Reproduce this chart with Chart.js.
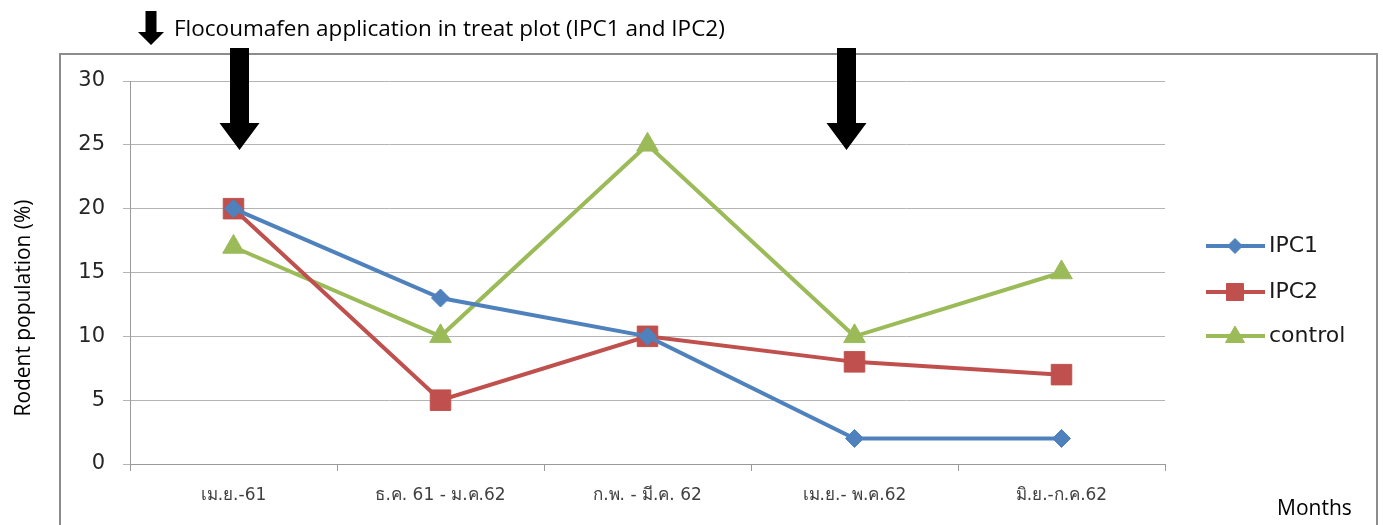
<!DOCTYPE html>
<html>
<head>
<meta charset="utf-8">
<script src="https://cdn.jsdelivr.net/npm/chart.js@4.4.1/dist/chart.umd.min.js"></script>
<style>
html,body{margin:0;padding:0;background:#fff;}
#wrap{width:1383px;height:525px;position:relative;}
</style>
</head>
<body>
<div id="wrap"><canvas id="c" width="1383" height="525"></canvas></div>
<script>
const categories = ['เม.ย.-61', 'ธ.ค. 61 - ม.ค.62', 'ก.พ. - มี.ค. 62', 'เม.ย.- พ.ค.62', 'มิ.ย.-ก.ค.62'];
const ipc1 = [20, 13, 10, 2, 2];
const ipc2 = [20, 5, 10, 8, 7];
const control = [17, 10, 25, 10, 15];
const yTicks = [0, 5, 10, 15, 20, 25, 30];
const applicationIdx = [0, 3];
const titleText = 'Flocoumafen application in treat plot (IPC1 and IPC2)';
const yTitle = 'Rodent population (%)';
const xTitle = 'Months';

const OPEN = "'Open Sans', sans-serif";
const DEJA = "'DejaVu Sans', sans-serif";

function drawArrow(ctx, x, yTop, yTip, shaftW, headW, headH) {
  ctx.beginPath();
  ctx.moveTo(x - shaftW/2, yTop);
  ctx.lineTo(x + shaftW/2, yTop);
  ctx.lineTo(x + shaftW/2, yTip - headH);
  ctx.lineTo(x + headW/2, yTip - headH);
  ctx.lineTo(x, yTip);
  ctx.lineTo(x - headW/2, yTip - headH);
  ctx.lineTo(x - shaftW/2, yTip - headH);
  ctx.closePath();
  ctx.fill();
}

function fitFont(ctx, text, family, targetW) {
  ctx.font = "20px " + family;
  const w = ctx.measureText(text).width;
  const size = 20 * targetW / w;
  return size.toFixed(2) + "px " + family;
}

const decor = {
  id: 'decor',
  beforeDraw(chart) {
    const ctx = chart.ctx;
    ctx.save();
    ctx.fillStyle = '#fff';
    ctx.fillRect(0, 0, chart.width, chart.height);
    ctx.strokeStyle = '#8c8c8c';
    ctx.lineWidth = 2;
    ctx.strokeRect(60, 54, 1317, 500);
    ctx.restore();
  },
  afterDraw(chart) {
    const ctx = chart.ctx;
    const xs = chart.scales.x;
    ctx.save();
    ctx.fillStyle = '#000';
    drawArrow(ctx, 151, 11, 45, 11, 26, 13);
    ctx.font = fitFont(ctx, titleText, OPEN, 551);
    ctx.textBaseline = 'alphabetic';
    ctx.textAlign = 'left';
    ctx.fillText(titleText, 174, 36);
    applicationIdx.forEach(i => {
      const x = xs.getPixelForValue(i) + (i === 0 ? 6 : -8);
      drawArrow(ctx, x, 48, 150, 19, 40, 27);
    });
    ctx.save();
    ctx.translate(30, 308);
    ctx.rotate(-Math.PI/2);
    ctx.textAlign = 'center';
    ctx.textBaseline = 'alphabetic';
    ctx.font = fitFont(ctx, yTitle, OPEN, 217);
    ctx.fillText(yTitle, 0, 0);
    ctx.restore();
    ctx.textAlign = 'left';
    ctx.textBaseline = 'alphabetic';
    ctx.font = "21px " + OPEN;
    ctx.fillText(xTitle, 1277, 515);
    const items = chart.data.datasets;
    const ly = [246, 292, 336];
    const lr = [7.5, 12, 11];
    items.forEach((ds, k) => {
      const y = ly[k];
      ctx.strokeStyle = ds.borderColor;
      ctx.lineWidth = 4;
      ctx.beginPath();
      ctx.moveTo(1206, y);
      ctx.lineTo(1265, y);
      ctx.stroke();
      ctx.fillStyle = ds.backgroundColor;
      ctx.strokeStyle = ds.borderColor;
      ctx.lineWidth = 1;
      Chart.helpers.drawPoint(ctx, {
        pointStyle: ds.pointStyle,
        radius: lr[k],
        rotation: 0,
        borderWidth: 1
      }, 1235, y + (ds.pointStyle === 'triangle' ? 1 : 0));
      ctx.fillStyle = '#1a1a1a';
      ctx.font = "22px " + DEJA;
      ctx.textBaseline = 'middle';
      ctx.fillText(ds.label, 1269, y);
    });
    ctx.restore();
  }
};

new Chart(document.getElementById('c'), {
  type: 'line',
  data: {
    labels: categories,
    datasets: [
      { label: 'IPC1', data: ipc1, borderColor: '#4F81BD', backgroundColor: '#4F81BD', borderWidth: 4, pointStyle: 'rectRot', pointRadius: 9, pointHoverRadius: 9, pointBorderWidth: 1 },
      { label: 'IPC2', data: ipc2, borderColor: '#C0504D', backgroundColor: '#C0504D', borderWidth: 4, pointStyle: 'rect', pointRadius: 14.5, pointHoverRadius: 14.5, pointBorderWidth: 1 },
      { label: 'control', data: control, borderColor: '#9BBB59', backgroundColor: '#9BBB59', borderWidth: 4, pointStyle: 'triangle', pointRadius: 12.5, pointHoverRadius: 12.5, pointBorderWidth: 1 }
    ]
  },
  options: {
    responsive: false,
    animation: false,
    devicePixelRatio: 1,
    layout: { padding: { left: 0, top: 81, right: 218, bottom: 0 } },
    plugins: { legend: { display: false }, tooltip: { enabled: false } },
    scales: {
      x: {
        offset: true,
        grid: { offset: true, drawOnChartArea: false, drawTicks: true, tickLength: 7, color: '#9a9a9a', lineWidth: 1 },
        border: { display: true, color: '#9a9a9a', width: 1 },
        ticks: { color: '#404040', font: { family: DEJA, size: 17 }, padding: 14, maxRotation: 0, autoSkip: false },
        afterFit: s => { s.height = 61; }
      },
      y: {
        min: 0, max: 30,
        afterBuildTicks: s => { s.ticks = yTicks.map(v => ({ value: v })); },
        grid: { color: '#b4b4b4', lineWidth: 1, tickLength: 7 },
        border: { display: true, color: '#9a9a9a', width: 1 },
        ticks: { color: '#262626', font: { family: DEJA, size: 21 }, padding: 18 },
        afterFit: s => { s.width = 130; }
      }
    }
  },
  plugins: [decor]
});
</script>
</body>
</html>
